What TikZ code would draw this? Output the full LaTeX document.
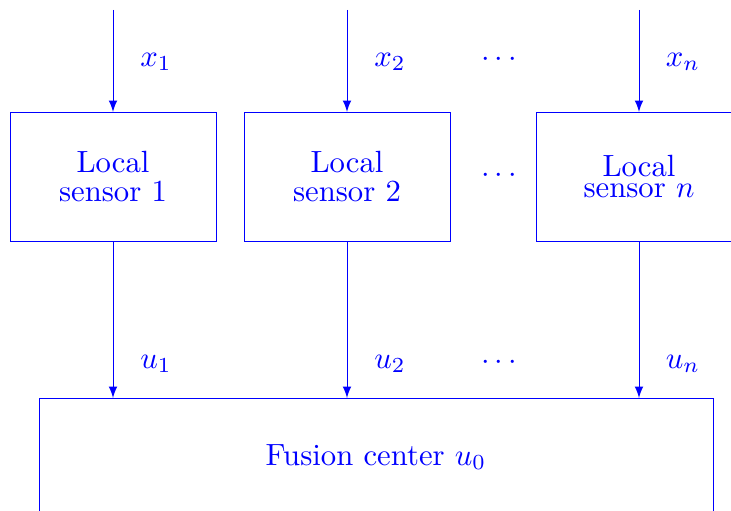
\documentclass[tikz,border=0pt]{standalone}
\usetikzlibrary{arrows}
\begin{document}
\begin{tikzpicture}[x=0.3257pt,y=-0.3257pt,
  sensorbox/.style={draw=blue,line width=0.3pt,rectangle,minimum width=67.09pt,minimum height=42.02pt,inner sep=0pt,outer sep=0pt,text=blue,align=center},
  lbl/.style={text=blue,inner sep=0pt},
  arr/.style={->,>=latex,draw=blue,line width=0.3pt}]
\useasboundingbox (0,0) rectangle (731,511);
\clip (0,0) rectangle (731,511);
\node[sensorbox] (s1) at (113,176.5) {Local\\[-2.6pt]sensor 1};
\node[sensorbox] (s2) at (347,176.5) {Local\\[-2.6pt]sensor 2};
\node[sensorbox] (s3) at (639,176.5) {Local\\[-5.2pt]sensor $n$};
\node[sensorbox,minimum width=219.5pt,minimum height=38.4pt] (f) at (376,457) {Fusion center $u_0$};
\coordinate (t1) at (113,10);
\coordinate (t2) at (347,10);
\coordinate (t3) at (639,10);
\draw[arr] (t1) -- (s1.north);
\draw[arr] (t2) -- (s2.north);
\draw[arr] (t3) -- (s3.north);
\draw[arr] (s1.south) -- (s1.south |- f.north);
\draw[arr] (s2.south) -- (s2.south |- f.north);
\draw[arr] (s3.south) -- (s3.south |- f.north);
\node[lbl] (x1) at (156,62) {$x_1$};
\node[lbl] (x2) at (390,62) {$x_2$};
\node[lbl] (xn) at (683,62) {$x_n$};
\node[lbl] (d1) at (499,60) {$\cdots$};
\node[lbl] (d2) at (499,176) {$\cdots$};
\node[lbl] (d3) at (499,363) {$\cdots$};
\node[lbl] (u1) at (156,364) {$u_1$};
\node[lbl] (u2) at (390,364) {$u_2$};
\node[lbl] (un) at (683,364) {$u_n$};
\end{tikzpicture}
\end{document}
